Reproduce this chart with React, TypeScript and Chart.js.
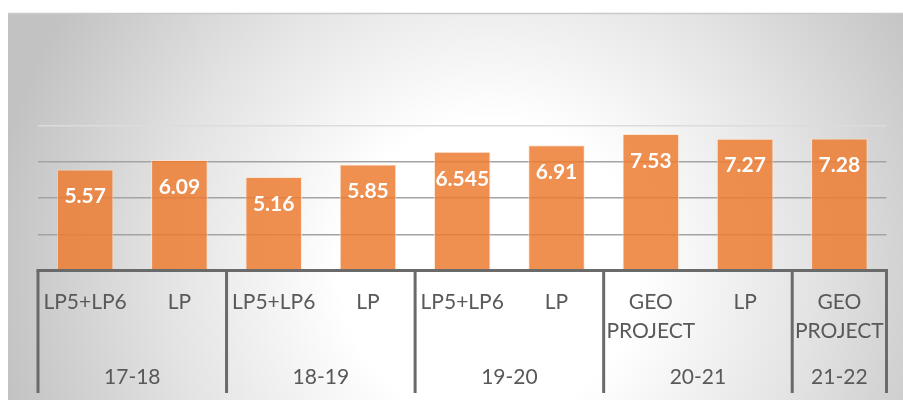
import React, { useEffect, useRef } from "react";
import { Chart, registerables } from "chart.js";

Chart.register(...registerables);

const subLabels: string[][] = [
  ["LP5+LP6"], ["LP"],
  ["LP5+LP6"], ["LP"],
  ["LP5+LP6"], ["LP"],
  ["GEO", "PROJECT"], ["LP"],
  ["GEO", "PROJECT"],
];
const groupLabels: string[] = ["17-18", "18-19", "19-20", "20-21", "21-22"];
const groupSizes: number[] = [2, 2, 2, 2, 1];
const values: number[] = [5.57, 6.09, 5.16, 5.85, 6.545, 6.91, 7.53, 7.27, 7.28];
const yTicks = { min: 0, max: 8, step: 2 };

const W = 903;
const H = 401;
const FONT = "Lato, 'Open Sans', sans-serif";
const AXIS_COLOR = "#6a6a6a";
const TEXT_COLOR = "#595959";

const backgroundPlugin = {
  id: "bgPlugin",
  beforeDraw(chart: any) {
    const ctx = chart.ctx;
    ctx.save();
    ctx.fillStyle = "#ffffff";
    ctx.fillRect(0, 0, W, H);
    const g = ctx.createRadialGradient(490, 270, 0, 490, 270, 500);
    g.addColorStop(0, "#ffffff");
    g.addColorStop(0.3, "#ffffff");
    g.addColorStop(0.65, "#e3e3e3");
    g.addColorStop(1, "#c2c2c2");
    ctx.fillStyle = g;
    ctx.fillRect(8, 13, W - 8, 387);
    ctx.strokeStyle = "#c9c9c9";
    ctx.lineWidth = 1.5;
    ctx.beginPath();
    ctx.moveTo(8, 13.5);
    ctx.lineTo(W, 13.5);
    ctx.stroke();
    ctx.restore();
  },
};

const overlayPlugin = {
  id: "overlayPlugin",
  afterDatasetsDraw(chart: any) {
    const ctx = chart.ctx;
    const xs = chart.scales.x;
    const area = chart.chartArea;
    const meta = chart.getDatasetMeta(0);
    ctx.save();
    // value labels
    ctx.fillStyle = "#ffffff";
    ctx.font = `bold 21px ${FONT}`;
    ctx.textAlign = "center";
    ctx.textBaseline = "middle";
    meta.data.forEach((bar: any, i: number) => {
      ctx.fillText(String(values[i]), bar.x, bar.y + 27);
    });

    // axis line
    const axisY = area.bottom;
    ctx.strokeStyle = AXIS_COLOR;
    ctx.lineWidth = 3;
    ctx.beginPath();
    ctx.moveTo(area.left - 1.5, axisY);
    ctx.lineTo(area.right + 1.5, axisY);
    ctx.stroke();

    // group separators
    const bounds: number[] = [area.left];
    let idx = 0;
    groupSizes.forEach((n) => {
      idx += n;
      if (idx >= subLabels.length) bounds.push(area.right);
      else bounds.push((xs.getPixelForValue(idx - 1) + xs.getPixelForValue(idx)) / 2);
    });
    ctx.beginPath();
    bounds.forEach((bx) => {
      ctx.moveTo(bx, axisY);
      ctx.lineTo(bx, 393);
    });
    ctx.stroke();

    // sub labels
    ctx.fillStyle = TEXT_COLOR;
    ctx.font = `21px ${FONT}`;
    subLabels.forEach((lines, i) => {
      const x = xs.getPixelForValue(i);
      lines.forEach((t, j) => {
        ctx.fillText(t, x, 302 + j * 29);
      });
    });
    // group labels
    groupLabels.forEach((t, k) => {
      ctx.fillText(t, (bounds[k] + bounds[k + 1]) / 2, 377);
    });
    ctx.restore();
  },
};

export default function App() {
  const ref = useRef<HTMLCanvasElement | null>(null);
  useEffect(() => {
    if (!ref.current) return;
    const chart = new Chart(ref.current, {
      type: "bar",
      data: {
        labels: subLabels.map((l) => l.join(" ")),
        datasets: [
          {
            data: values,
            backgroundColor: "rgba(237,125,49,0.85)",
            borderColor: "rgba(255,225,205,0.75)",
            borderWidth: 1,
            barPercentage: 0.6,
            categoryPercentage: 1,
          },
        ],
      },
      options: {
        animation: false,
        responsive: false,
        maintainAspectRatio: false,
        layout: { padding: { left: 38, right: 16.5, top: 125.5, bottom: 130.5 } },
        plugins: { legend: { display: false }, tooltip: { enabled: false } },
        scales: {
          x: { display: false },
          y: {
            min: yTicks.min,
            max: yTicks.max,
            ticks: { display: false, stepSize: yTicks.step },
            grid: {
              drawTicks: false,
              lineWidth: 1.5,
              color: (c: any) => (c.tick && c.tick.value === yTicks.max ? "#dcdcdc" : "#a3a3a3"),
            },
            border: { display: false },
          },
        },
      },
      plugins: [backgroundPlugin, overlayPlugin],
    });
    return () => chart.destroy();
  }, []);
  return (
    <div style={{ position: "absolute", left: 0, top: 0, width: W, height: H }}>
      <canvas ref={ref} width={W} height={H} style={{ display: "block" }} />
    </div>
  );
}
